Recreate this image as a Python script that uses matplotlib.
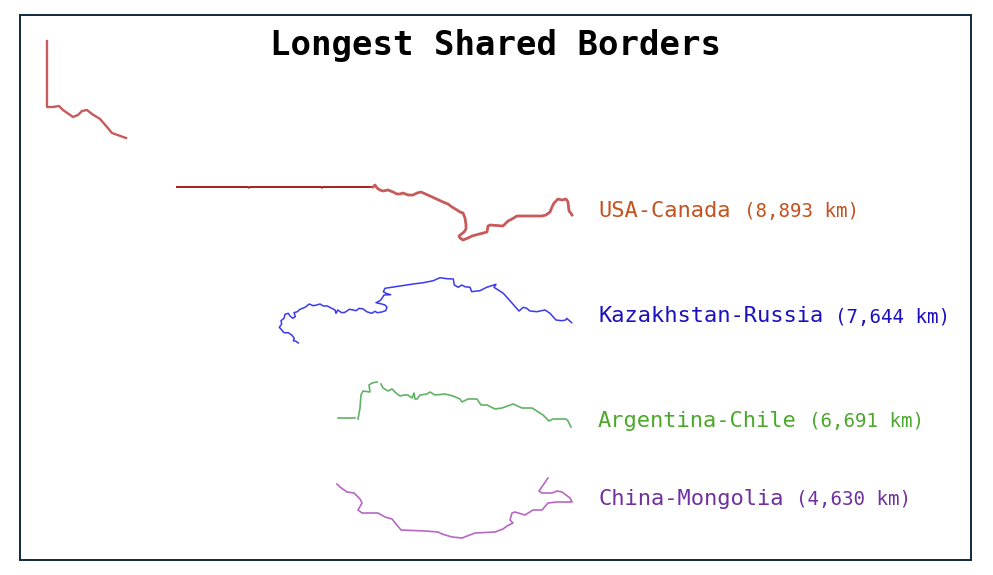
import matplotlib
matplotlib.use("Agg")
import matplotlib.pyplot as plt
from matplotlib.patches import Rectangle

TITLE = "Longest Shared Borders"
names = ["USA-Canada", "Kazakhstan-Russia", "Argentina-Chile", "China-Mongolia"]
lengths = ["(8,893 km)", "(7,644 km)", "(6,691 km)", "(4,630 km)"]
label_colors = ["#C5521E", "#1A10C0", "#4CA82C", "#7030A0"]

usa_alaska_x = [47,47,53,59,63,73,78,82,87,92,100,107,112,126]
usa_alaska_y = [41,107,107,106,110,117,115,111,110,114,119,127,133,138]
usa_49th_x = [177,248,249,250,321,322,323,373]
usa_49th_y = [187,187,187.7,187,187,187.7,187,187]
usa_east_x = [373,375,377,380,383,388,393,397,400,403,408,413,417,421,430,443,448,452,457,460,463,465,466,466,464,459,460,463,468,472,487,488,490,503,508,512,517,542,546,550,552,554,558,562,566,568,569,570,572]
usa_east_y = [187,185,188,190,191,190,192,194,194,193,195,195,193,192,196,202,204,207,210,212,213,218,225,229,232,236,238,240,238,236,232,226,225,226,221,219,216,216,215,212,207,203,199,200,199,202,211,212,215]
kaz_x = [298.3,296,293.3,294.3,291.7,288.3,284,281.7,279.3,281.7,281,284,285,288.3,290,292.7,295.3,294,297.3,300,305,309.3,313.3,316.7,320,323.3,327.3,331.7,335,336,337.7,341.7,345,349.3,353.3,356,359.3,363.3,366.7,371.7,375,377.3,381.7,385.7,387,385,381.7,376,380,382,384,390.7,386,383.3,385,400,413.3,423.3,433.3,440,446.7,453.3,454.3,458.3,461.7,465,470,471.7,476.7,480,486.7,496,494,503.3,511.7,519,523.3,526.7,530,536.7,545,550,556,561.7,565.7,566.7,571.7]
kaz_y = [343,341.3,340.7,338.3,335,332.7,332.7,330,327.3,324,320.7,318.3,314.3,313.3,316,318.3,316.7,312.7,311.7,309.3,307.3,304,305.7,305,304,306,306,308.3,310,313.3,310,312.7,312.3,309.3,310,310.7,308.3,309,311.7,313.3,311.3,312.7,312,310.7,307.3,305,304,302.7,300.7,298.3,295,294.7,293.3,291.7,288.3,286,284,282.7,280.7,277.7,278.7,279,285,287.3,285,286.7,287.3,291.7,291,290.7,287.3,284.3,287.3,293.3,302.7,311,307.3,308.3,311,311.7,310,313.3,320,320.7,320,318.3,322.7]
arg_a_x = [338,355]
arg_a_y = [418,418]
arg_b_x = [358,360,361,363,370,369,372,377]
arg_b_y = [419,408,395,391,392,385,383,382]
arg_c_x = [381,383,388,392,396,400,404,408,412,414,415,417,420,427,430,435,445,453,460,462,468,477,481,487,495,502,513,522,532,543,549,553,560,566,568,571]
arg_c_y = [384,388,391,389,393,396,395,395,398,393,399,399,395,394,392,395,394,396,399,402,399,399,405,405,409,408,404,408,408,415,421,419,419,419,421,427]
chn_x = [337,340,347,354,360,362,358,362,378,385,392,401,425,438,442,452,462,475,495,503,507,513,510,512,515,525,533,542,548,557,572,570,562,557,552,542,539,548]
chn_y = [484,487,492,493,499,503,510,513,513,517,519,530,531,532,534,537,538,533,532,529,526,523,520,513,512,515,510,510,503,502,502,498,492,491,493,493,491,478]

fig = plt.figure(figsize=(9.93, 5.75), dpi=100)
ax = fig.add_axes([0, 0, 1, 1])
ax.set_xlim(0, 993)
ax.set_ylim(575, 0)
ax.axis("off")

ax.add_patch(Rectangle((19.5, 14.5), 951.5, 545.5, fill=False, ec="#0E2A3A", lw=1.4))

mono = "DejaVu Sans Mono"
ax.text(495.5, 45, TITLE, ha="center", va="center", family=mono, weight="bold", fontsize=24.5, color="black")

RED = "#C85A5A"
ax.plot(usa_alaska_x, usa_alaska_y, color=RED, lw=1.7, solid_joinstyle="round")
ax.plot(usa_49th_x, usa_49th_y, color="#A81E1E", lw=1.4)
ax.plot(usa_east_x, usa_east_y, color=RED, lw=2.0, solid_joinstyle="round")
ax.plot(kaz_x, kaz_y, color="#3A3AF0", lw=1.1, solid_joinstyle="round")
for sx, sy in [(arg_a_x, arg_a_y), (arg_b_x, arg_b_y), (arg_c_x, arg_c_y)]:
    ax.plot(sx, sy, color="#62B266", lw=1.2, solid_joinstyle="round")
ax.plot(chn_x, chn_y, color="#B767C4", lw=1.2, solid_joinstyle="round")

label_y = [211, 316, 421, 499]
len_x = [744, 835, 809, 796]
for n, l, c, y, lx in zip(names, lengths, label_colors, label_y, len_x):
    ax.text(598, y, n, ha="left", va="center", family=mono, fontsize=15.8, color=c)
    ax.text(lx, y + 1, l, ha="left", va="center", family=mono, fontsize=13.8, color=c)

fig.savefig("out.png", dpi=100)
